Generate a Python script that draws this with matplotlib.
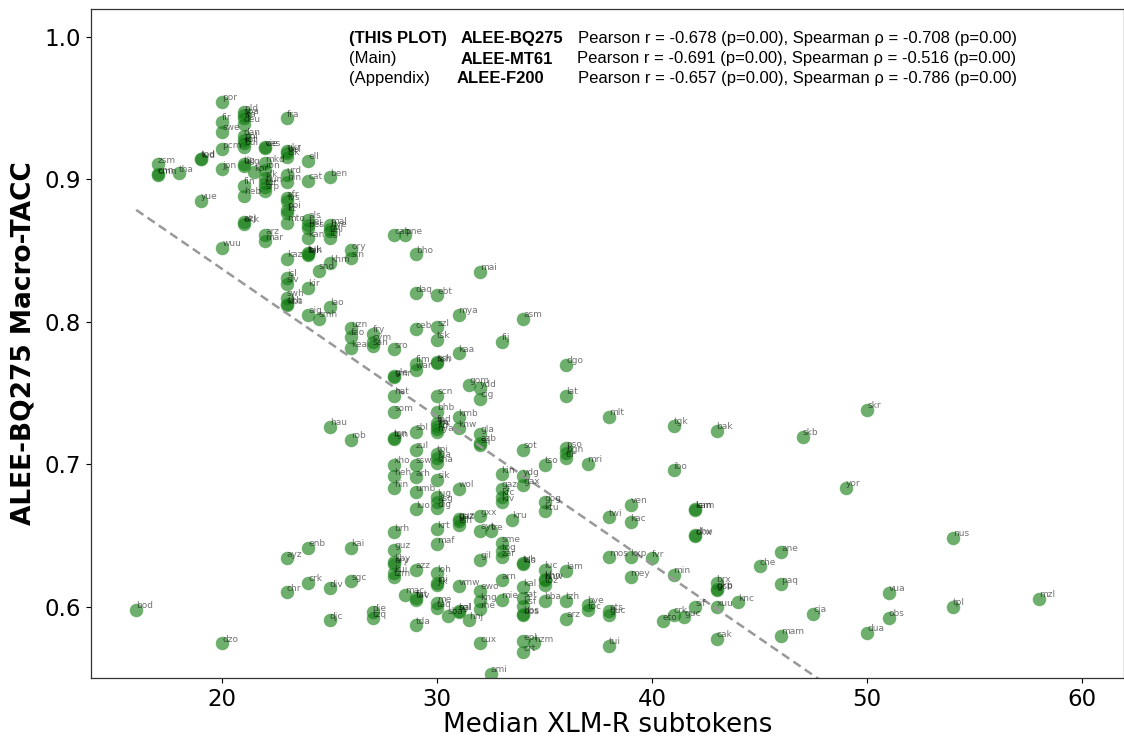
import matplotlib
matplotlib.use('agg')
import matplotlib.pyplot as plt

# language codes, median subtokens and macro score, same order in all three
langs = [
    'bod',
    'zsm', 'cmn', 'cnn',
    'tha',
    'yue', 'tod', 'lud',
    'por', 'fir', 'swe', 'pcm', 'jpn', 'wuu', 'dzo',
    'nld', 'spa', 'ita', 'deu', 'dan', 'pol', 'est', 'bul', 'tlg', 'ukg', 'fin', 'heb', 'azj', 'ekk',
    'kor',
    'vie', 'ces', 'mkd', 'ron', 'slk', 'hun', 'tur', 'srp', 'arz', 'mar',
    'fra', 'ukr', 'bel', 'isk', 'urd', 'hin', 'afr', 'lvs', 'poi', 'lit', 'mto', 'kaz', 'isl', 'slv',
    'swh', 'ckb', 'kbs', 'ayz', 'chr',
    'ell', 'cat', 'als', 'bej', 'pes', 'kan', 'tuk', 'bjn', 'tel', 'kir', 'aig', 'enb', 'crk',
    'smh', 'snd',
    'ben', 'mal', 'hye', 'guj', 'tgl', 'khm', 'lao', 'hau', 'div', 'djc',
    'ory', 'sin', 'uzn', 'fao', 'kea', 'rob', 'kai', 'sgc',
    'fry', 'cym', 'san', 'die', 'tzq',
    'cab', 'sro', 'gle', 'smr', 'hat', 'som', 'tsn', 'tgn', 'xho', 'heh', 'hin', 'brh', 'guz', 'kby',
    'ary', 'kui', 'tzm',
    'pne', 'mac',
    'bho', 'daq', 'ceb', 'fim', 'war', 'sbl', 'zul', 'ssw', 'arh', 'umb', 'luo', 'azz', 'fat', 'tav',
    'tda',
    'ebt', 'szl', 'tsk', 'ssh', 'feh', 'scn', 'bhb', 'fpd', 'lfn', 'ilo', 'nya', 'tpi', 'lua', 'sna',
    'sik', 'lug', 'asg', 'dig', 'krt', 'maf', 'loh', 'ini', 'jik', 'me', 'taq',
    'sba',
    'mya', 'kaa', 'kmb', 'knw', 'wol', 'guz', 'gaz', 'tsh', 'vmw', 'sgl', 'bal',
    'gom', 'hnj',
    'mai', 'ydd', 'cig', 'gla', 'azb', 'sq', 'gxx', 'ayt', 'gil', 'ewo', 'kng', 'rhe', 'cux',
    'tre', 'ami',
    'fij', 'kin', 'gaz', 'kfc', 'kiv', 'sme', 'tog', 'zar', 'arn', 'mie',
    'kru',
    'asm', 'sot', 'ydg', 'gax', 'tsh', 'kls', 'kal', 'sat', 'ksf', 'bos', 'dos', 'epl', 'crt',
    'hzm',
    'tso', 'gog', 'ktu', 'luc', 'khn', 'hnw', 'toz', 'bba',
    'dgo', 'lat', 'pso', 'bgn', 'tir', 'lam', 'tzh', 'arz',
    'mri', 'bve', 'toc',
    'mlt', 'twi', 'mos', 'ets', 'guc', 'tui',
    'ven', 'kac', 'kxp', 'mey',
    'fvr',
    'eto',
    'tgk', 'ibo', 'min', 'crk',
    'guc',
    'lam', 'kam', 'dhv', 'ckw', 'sif',
    'bak', 'brx', 'gkp', 'gcb', 'xuu', 'cak',
    'knc',
    'che',
    'ane', 'paq', 'mam',
    'skb',
    'cja',
    'yor',
    'skr', 'dua',
    'vua', 'obs',
    'nus', 'tpl',
    'mzl',
]
subtokens = [
    16,
    17, 17, 17,
    18,
    19, 19, 19,
    20, 20, 20, 20, 20, 20, 20,
    21, 21, 21, 21, 21, 21, 21, 21, 21, 21, 21, 21, 21, 21,
    21.5,
    22, 22, 22, 22, 22, 22, 22, 22, 22, 22,
    23, 23, 23, 23, 23, 23, 23, 23, 23, 23, 23, 23, 23, 23,
    23, 23, 23, 23, 23,
    24, 24, 24, 24, 24, 24, 24, 24, 24, 24, 24, 24, 24,
    24.5, 24.5,
    25, 25, 25, 25, 25, 25, 25, 25, 25, 25,
    26, 26, 26, 26, 26, 26, 26, 26,
    27, 27, 27, 27, 27,
    28, 28, 28, 28, 28, 28, 28, 28, 28, 28, 28, 28, 28, 28,
    28, 28, 28,
    28.5, 28.5,
    29, 29, 29, 29, 29, 29, 29, 29, 29, 29, 29, 29, 29, 29,
    29,
    30, 30, 30, 30, 30, 30, 30, 30, 30, 30, 30, 30, 30, 30,
    30, 30, 30, 30, 30, 30, 30, 30, 30, 30, 30,
    30.5,
    31, 31, 31, 31, 31, 31, 31, 31, 31, 31, 31,
    31.5, 31.5,
    32, 32, 32, 32, 32, 32, 32, 32, 32, 32, 32, 32, 32,
    32.5, 32.5,
    33, 33, 33, 33, 33, 33, 33, 33, 33, 33,
    33.5,
    34, 34, 34, 34, 34, 34, 34, 34, 34, 34, 34, 34, 34,
    34.5,
    35, 35, 35, 35, 35, 35, 35, 35,
    36, 36, 36, 36, 36, 36, 36, 36,
    37, 37, 37,
    38, 38, 38, 38, 38, 38,
    39, 39, 39, 39,
    40,
    40.5,
    41, 41, 41, 41,
    41.5,
    42, 42, 42, 42, 42,
    43, 43, 43, 43, 43, 43,
    44,
    45,
    46, 46, 46,
    47,
    47.5,
    49,
    50, 50,
    51, 51,
    54, 54,
    58,
]
macro_score = [
    .598,
    .9107, .903, .9035,
    .9043,
    .885, .9145, .914,
    .9546, .9406, .9336, .921, .907, .852, .5745,
    .947, .945, .943, .939, .9305, .9277, .9255, .923, .9105, .9095, .8957, .8886, .870, .869,
    .905,
    .9226, .9222, .9114, .9067, .9008, .8973, .895, .892, .861, .8564,
    .943, .920, .9184, .916, .9032, .8985, .8868, .8845, .8786, .8765, .8697, .8442, .8311, .8267,
    .817, .8125, .8115, .6342, .6103,
    .913, .899, .8716, .868, .8658, .8587, .848, .8475, .847, .824, .805, .6416, .617,
    .8021, .836,
    .9015, .868, .8653, .8635, .8592, .8412, .8107, .7263, .6131, .5904,
    .8505, .8447, .7956, .7897, .7815, .7172, .6416, .6178,
    .7916, .786, .7827, .5963, .592,
    .861, .7808, .762, .7612, .7481, .7366, .7188, .718, .6996, .6915, .6832, .6524, .64, .6312,
    .63, .6236, .6208,
    .861, .6084,
    .8475, .82, .7949, .7705, .7663, .723, .7102, .6996, .691, .6804, .6684, .626, .606, .605,
    .5869,
    .8187, .7963, .7874, .7718, .771, .7481, .737, .729, .7266, .7247, .7226, .7074, .7043, .7008,
    .6891, .677, .6732, .6692, .6545, .644, .6236, .6166, .615, .6025, .599,
    .5937,
    .8049, .778, .733, .7254, .6828, .6615, .6605, .6575, .6143, .597, .5965,
    .7558, .5904,
    .8353, .7535, .746, .7214, .7153, .7137, .6634, .6533, .633, .6114, .6038, .5983, .5745,
    .6529, .553,
    .7862, .6932, .6828, .6774, .6734, .6447, .6388, .6348, .6185, .605,
    .661,
    .8021, .7102, .6915, .6852, .6305, .6298, .6138, .606, .6007, .5948, .594, .5757, .5681,
    .5745,
    .6996, .6733, .667, .626, .6195, .6185, .6154, .6042,
    .7698, .7481, .7114, .7078, .7043, .6253, .6042, .5916,
    .7003, .6014, .5974,
    .7333, .6627, .6348, .5967, .5944, .5728,
    .6716, .6594, .6348, .6206,
    .6342,
    .5897,
    .727, .696, .6225, .5944,
    .5925,
    .6687, .6681, .6501, .6495, .5995,
    .7235, .6166, .6122, .6116, .5995, .5775,
    .6031,
    .6283,
    .6384, .6157, .5797,
    .7193,
    .5951,
    .6835,
    .7382, .5818,
    .6098, .5923,
    .6484, .6,
    .6056,
]

# trend line end points
trend_x = [16, 58]
trend_y = [.8786, .443]

# corner text, one row per model
header_tags = ['(THIS PLOT)', '(Main)', '(Appendix)']
header_models = ['ALEE-BQ275', 'ALEE-MT61', 'ALEE-F200']
header_stats = [
    'Pearson r = -0.678 (p=0.00), Spearman ρ = -0.708 (p=0.00)',
    'Pearson r = -0.691 (p=0.00), Spearman ρ = -0.516 (p=0.00)',
    'Pearson r = -0.657 (p=0.00), Spearman ρ = -0.786 (p=0.00)',
]

W, H = 1124, 743
fig = plt.figure(figsize=(W / 100, H / 100), dpi=100)
ax = fig.add_axes([91 / W, 1 - 678 / H, (1124 - 91) / W, (678 - 9) / H])

ax.scatter(subtokens, macro_score, s=85, color='#0e7a0e', alpha=0.6, linewidths=0.6,
           edgecolors='#4a9f4a', zorder=2)
for lang, x, y in zip(langs, subtokens, macro_score):
    ax.annotate(lang, (x, y), xytext=(0, 1), textcoords='offset points', fontsize=6.5,
                color='black', alpha=0.55, zorder=3, annotation_clip=True)

ax.plot(trend_x, trend_y, color='#999999', lw=1.8, ls=(0, (3.5, 2)), zorder=2.5)

ax.set_xlim(13.9, 61.95)
ax.set_ylim(0.55, 1.0196)
ax.set_xticks([20, 30, 40, 50, 60])
ax.set_yticks([0.6, 0.7, 0.8, 0.9, 1.0])
ax.tick_params(labelsize=16.5, length=3.5, width=0.8)
ax.set_xlabel('Median XLM-R subtokens', fontsize=18.9, labelpad=1)
ax.set_ylabel('ALEE-BQ275 Macro-TACC', fontsize=19, fontweight='bold', labelpad=6)
for s in ax.spines.values():
    s.set_linewidth(0.9)
    s.set_color('#333333')

# header rows, placed by figure pixels
rows_y = [38.5, 59, 78.5]
model_x = [461, 461, 457]
stat_x = [578, 577, 578]
font = ['Liberation Sans']
for i in range(3):
    weight = 'bold' if i == 0 else 'normal'
    fig.text(349 / W, 1 - rows_y[i] / H, header_tags[i], fontsize=11.95, family=font,
             fontweight=weight, va='center')
    fig.text(model_x[i] / W, 1 - rows_y[i] / H, header_models[i], fontsize=11.95, family=font,
             fontweight='bold', va='center')
    fig.text(stat_x[i] / W, 1 - rows_y[i] / H, header_stats[i], fontsize=11.95, family=font,
             va='center')

fig.savefig('out.png', dpi=100)
